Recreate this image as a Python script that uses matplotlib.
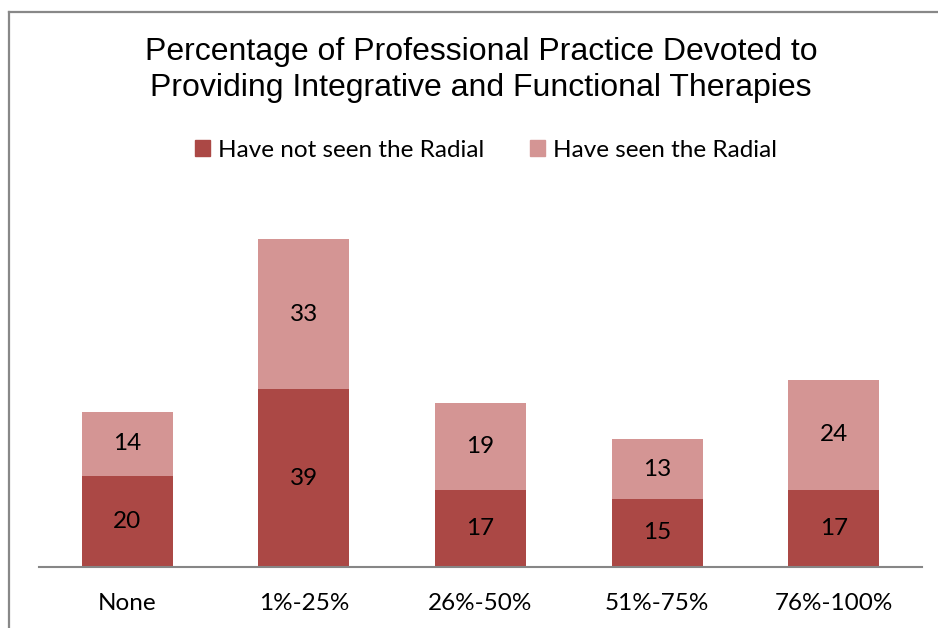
import matplotlib.pyplot as plt
from matplotlib.lines import Line2D
from matplotlib.patches import Patch

categories = ["None", "1%-25%", "26%-50%", "51%-75%", "76%-100%"]
not_seen = [20, 39, 17, 15, 17]
seen = [14, 33, 19, 13, 24]

dark = "#AB4845"
light = "#D49594"
body_font = "Lato"
body_size = 17.5

fig = plt.figure(figsize=(9.38, 6.28), dpi=100)
W, H = 938, 628
ax = fig.add_axes([39 / W, (H - 567) / H, (922 - 39) / W, 0.5805])

x = range(len(categories))
b1 = ax.bar(x, not_seen, width=0.515, color=dark)
b2 = ax.bar(x, seen, width=0.515, bottom=not_seen, color=light)

for i in x:
    ax.text(i, not_seen[i] / 2, str(not_seen[i]), ha="center", va="center",
            fontsize=body_size, family=body_font)
    ax.text(i, not_seen[i] + seen[i] / 2, str(seen[i]), ha="center", va="center",
            fontsize=body_size, family=body_font)

ax.set_xlim(-0.5, len(categories) - 0.5)
ax.set_ylim(0, 80)
ax.set_xticks(list(x))
ax.set_xticklabels(categories, fontsize=body_size, family=body_font)
ax.tick_params(axis="x", length=0, pad=19)
ax.set_yticks([])
for s in ["top", "left", "right"]:
    ax.spines[s].set_visible(False)
ax.spines["bottom"].set_color("#868686")
ax.spines["bottom"].set_linewidth(1.5)

fig.text(481 / W, 1 - 70 / H,
         "Percentage of Professional Practice Devoted to\nProviding Integrative and Functional Therapies",
         ha="center", va="center", fontsize=23, family="Liberation Sans", linespacing=1.3)

handles = [Patch(color=dark, label="Have not seen the Radial"),
           Patch(color=light, label="Have seen the Radial")]
fig.legend(handles=handles, loc="center", bbox_to_anchor=(486 / W, 1 - 150 / H), ncol=2,
           frameon=False, prop={"family": body_font, "size": body_size}, handlelength=0.62,
           handleheight=0.62, handletextpad=0.3, columnspacing=1.9)

# chart border (cropped at right and bottom)
fig.add_artist(Line2D([9 / W, 1], [1 - 12 / H, 1 - 12 / H], color="#888888", lw=1.6))
fig.add_artist(Line2D([9 / W, 9 / W], [0, 1 - 12 / H], color="#888888", lw=1.6))

fig.savefig("out.png", dpi=100)
